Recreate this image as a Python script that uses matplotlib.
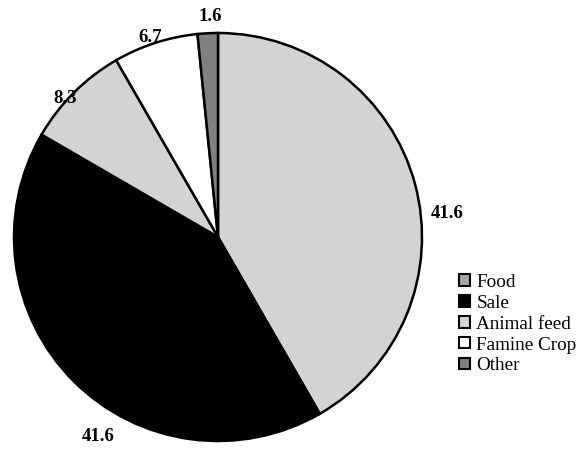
import matplotlib
matplotlib.use("Agg")
import matplotlib.pyplot as plt
import matplotlib.patches as mpatches
import numpy as np

categories = ["Food", "Sale", "Animal feed", "Famine Crop", "Other"]
values = [41.6, 41.6, 8.3, 6.7, 1.6]
value_labels = ["41.6", "41.6", "8.3", "6.7", "1.6"]

wedge_colors = ["#d3d3d3", "#000000", "#d3d3d3", "#ffffff", "#808080"]
legend_colors = ["#a6a6a6", "#000000", "#d3d3d3", "#ffffff", "#808080"]
label_dist = [1.13, 1.14, 1.01, 1.035, 1.08]
label_shift = [-9, 14, 3, 1, -1]  # degrees

fig = plt.figure(figsize=(5.87, 4.55), dpi=100)
ax = fig.add_axes([0, 0, 1, 1])
W, H = 587, 455
cx, cy, R = 218, 237, 204

wedges, _ = ax.pie(values, colors=wedge_colors, startangle=90, counterclock=False,
                   radius=1.0, center=(0, 0), frame=True,
                   wedgeprops=dict(edgecolor="black", linewidth=1.8))
ax.set_xlim(-cx / R, (W - cx) / R)
ax.set_ylim((cy - H) / R, cy / R)
ax.set_aspect("equal")
ax.axis("off")

for w, lab, d, s in zip(wedges, value_labels, label_dist, label_shift):
    ang = np.deg2rad((w.theta1 + w.theta2) / 2 + s)
    ax.text(d * np.cos(ang), d * np.sin(ang), lab, ha="center", va="center",
            family="Liberation Serif", fontweight="bold", fontsize=13.5)

handles = [mpatches.Patch(facecolor=c, edgecolor="black", linewidth=1.5) for c in legend_colors]
fig.legend(handles, categories, loc="upper left", bbox_to_anchor=(459 / W, 1 - 274 / H),
           frameon=False, prop=dict(family="Liberation Serif", size=13.8),
           handlelength=0.55, handleheight=0.55, handletextpad=0.35, labelspacing=0.2,
           borderaxespad=0, borderpad=0)

fig.savefig("out.png", dpi=100)
